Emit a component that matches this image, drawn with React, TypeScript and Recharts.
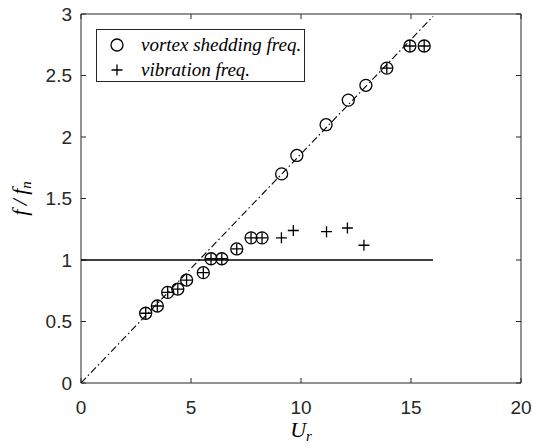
import React from 'react';
import { ComposedChart, Scatter, XAxis, YAxis, Legend, Label } from 'recharts';

const vortexUr = [2.94, 3.47, 3.94, 4.4, 4.8, 5.56, 5.91, 6.4, 7.08, 7.73, 8.23, 9.12, 9.81, 11.14, 12.15, 12.95, 13.9, 14.95, 15.6];
const vortexF = [0.567, 0.626, 0.737, 0.764, 0.837, 0.897, 1.01, 1.01, 1.09, 1.18, 1.18, 1.7, 1.85, 2.1, 2.3, 2.42, 2.56, 2.74, 2.74];
const vibUr = [2.94, 3.47, 3.94, 4.4, 4.8, 5.56, 5.91, 6.4, 7.08, 7.73, 8.23, 9.11, 9.65, 11.16, 12.11, 12.86, 13.9, 14.95, 15.6];
const vibF = [0.567, 0.626, 0.737, 0.764, 0.837, 0.897, 1.01, 1.01, 1.09, 1.18, 1.18, 1.18, 1.24, 1.23, 1.26, 1.12, 2.56, 2.74, 2.74];
const strouhalUr = [0, 16];
const strouhalF = [0, 2.98];
const naturalUr = [0, 16];
const naturalF = [1, 1];
const xTicks = [0, 5, 10, 15, 20];
const yTicks = [0, 0.5, 1, 1.5, 2, 2.5, 3];

const zip = (xs: number[], ys: number[]) => xs.map((x, i) => ({ x, y: ys[i] }));
const vortexData = zip(vortexUr, vortexF);
const vibData = zip(vibUr, vibF);
const strouhalData = zip(strouhalUr, strouhalF);
const naturalData = zip(naturalUr, naturalF);

const AX = '#262626';
const tickFont = { fontFamily: 'Liberation Sans, Arial, sans-serif', fontSize: 19, fill: AX };
const serif = 'Liberation Serif, Times New Roman, serif';

const CircleShape = (p: any) => (
  <circle cx={p.cx} cy={p.cy} r={6} fill="none" stroke="#000" strokeWidth={1.3} />
);
const PlusShape = (p: any) => (
  <path d={`M${p.cx - 5.5},${p.cy}H${p.cx + 5.5}M${p.cx},${p.cy - 5.5}V${p.cy + 5.5}`} stroke="#000" strokeWidth={1.3} fill="none" />
);
const NoShape = () => null;
const NoTick = () => <g />;

const LegendBox = () => (
  <div style={{ width: 207, height: 51, border: `1px solid ${AX}`, background: '#fff', fontFamily: serif, fontStyle: 'italic', fontSize: 19, color: '#000', boxSizing: 'content-box', whiteSpace: 'nowrap' }}>
    <div style={{ display: 'flex', alignItems: 'center', height: 25, marginTop: 2 }}>
      <svg width={40} height={20}><circle cx={20} cy={10} r={6} fill="none" stroke="#000" strokeWidth={1.3} /></svg>
      <span style={{ marginLeft: 4 }}>vortex shedding freq.</span>
    </div>
    <div style={{ display: 'flex', alignItems: 'center', height: 25 }}>
      <svg width={40} height={20}><path d="M14.5,10H25.5M20,4.5V15.5" stroke="#000" strokeWidth={1.3} /></svg>
      <span style={{ marginLeft: 4 }}>vibration freq.</span>
    </div>
  </div>
);

const XLabel = (props: any) => {
  const vb = props.viewBox;
  const cx = vb.x + vb.width / 2;
  return (
    <text x={cx} y={437} textAnchor="middle" fontFamily={serif} fontStyle="italic" fontSize={22} fill="#000">
      U<tspan fontSize={15} dy={4}>r</tspan>
    </text>
  );
};
const YLabel = (props: any) => {
  const vb = props.viewBox;
  const cy = vb.y + vb.height / 2;
  return (
    <text x={0} y={0} transform={`translate(27,${cy}) rotate(-90)`} textAnchor="middle" fontFamily={serif} fontStyle="italic" fontSize={22} fill="#000">
      {'f\u2009/\u2009f'}<tspan fontSize={15} dy={4}>n</tspan>
    </text>
  );
};

export default function App() {
  return (
    <div style={{ position: 'absolute', left: 0, top: 0, width: 533, height: 448, background: '#fff' }}>
      <ComposedChart width={533} height={448} margin={{ top: 0, right: 0, bottom: 0, left: 0 }}>
        <XAxis xAxisId="b" type="number" dataKey="x" domain={[0, 20]} ticks={xTicks} orientation="bottom" height={65}
          axisLine={{ stroke: AX }} tickLine={{ stroke: AX }} tickSize={-5} tickMargin={23} tick={tickFont} allowDataOverflow>
          <Label content={XLabel} />
        </XAxis>
        <XAxis xAxisId="t" type="number" dataKey="x" domain={[0, 20]} ticks={xTicks} orientation="top" height={14}
          axisLine={{ stroke: AX }} tickLine={{ stroke: AX }} tickSize={-5} tick={NoTick} allowDataOverflow />
        <YAxis yAxisId="l" type="number" dataKey="y" domain={[0, 3]} ticks={yTicks} orientation="left" width={81}
          axisLine={{ stroke: AX }} tickLine={{ stroke: AX }} tickSize={-5} tickMargin={14} tick={tickFont} allowDataOverflow>
          <Label content={YLabel} />
        </YAxis>
        <YAxis yAxisId="r" type="number" dataKey="y" domain={[0, 3]} ticks={yTicks} orientation="right" width={12}
          axisLine={{ stroke: AX }} tickLine={{ stroke: AX }} tickSize={-5} tick={NoTick} allowDataOverflow />
        <Scatter xAxisId="t" yAxisId="r" data={naturalData} shape={NoShape} isAnimationActive={false} legendType="none" />
        <Scatter xAxisId="b" yAxisId="l" data={naturalData} line={{ stroke: '#000', strokeWidth: 1.3 }} shape={NoShape} isAnimationActive={false} legendType="none" />
        <Scatter xAxisId="b" yAxisId="l" data={strouhalData} line={{ stroke: '#000', strokeWidth: 1.1, strokeDasharray: '7 3 1.5 3' }} shape={NoShape} isAnimationActive={false} legendType="none" />
        <Scatter xAxisId="b" yAxisId="l" name="vortex shedding freq." data={vortexData} shape={CircleShape} isAnimationActive={false} />
        <Scatter xAxisId="b" yAxisId="l" name="vibration freq." data={vibData} shape={PlusShape} isAnimationActive={false} />
        <Legend layout="horizontal" verticalAlign="middle" align="center" content={LegendBox}
          wrapperStyle={{ left: 96, top: 29, width: 209, height: 53, margin: 0, padding: 0 }} />
      </ComposedChart>
    </div>
  );
}
